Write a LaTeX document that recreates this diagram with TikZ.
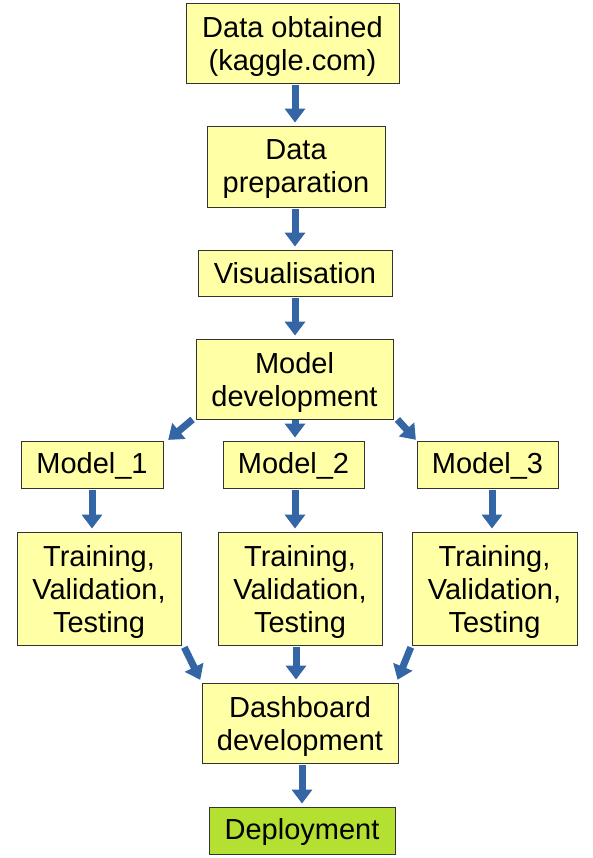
\documentclass[tikz,border=0pt]{standalone}
\usepackage{fontspec}
\setmainfont{Liberation Sans}
\usetikzlibrary{arrows.meta}
\definecolor{boxyellow}{HTML}{FFFFA6}
\definecolor{boxgreen}{RGB}{180,224,50}
\definecolor{arrowblue}{HTML}{3465A4}
\definecolor{boxborder}{HTML}{333333}
\tikzset{
  flowbox/.style={draw=boxborder, line width=0.9pt, fill=boxyellow, rectangle,
    inner sep=0pt, align=center, font=\fontsize{29}{33}\selectfont},
  multiline/.style={text depth=-1.5pt},
  greenbox/.style={flowbox, fill=boxgreen},
  flowarrow/.style={draw=arrowblue, line width=7pt,
    -{Triangle[width=20pt,length=14pt]}, shorten <=2pt, shorten >=3pt},
}
\begin{document}
\begin{tikzpicture}[x=1pt,y=-1pt]
\useasboundingbox (0,0) rectangle (593,858);
\node[flowbox, multiline, minimum width=213pt, minimum height=80pt] (d1) at (292.5,43) {Data obtained\\(kaggle.com)};
\node[flowbox, multiline, minimum width=178pt, minimum height=81pt] (d2) at (296,166.5) {Data\\preparation};
\node[flowbox, text depth=-1pt, minimum width=194pt, minimum height=46pt] (vis) at (295,273) {Visualisation};
\node[flowbox, multiline, minimum width=197pt, minimum height=80pt] (md) at (294.5,379) {Model\\development};
\node[flowbox, text depth=2.5pt, minimum width=142pt, minimum height=47pt] (m1) at (92,464.5) {Model\_1};
\node[flowbox, text depth=2.5pt, minimum width=141pt, minimum height=47pt] (m2) at (293.5,464.5) {Model\_2};
\node[flowbox, text depth=2.5pt, minimum width=141pt, minimum height=47pt] (m3) at (487.5,464.5) {Model\_3};
\node[flowbox, multiline, minimum width=164pt, minimum height=113pt] (t1) at (99,588.5) {Training,\\Validation,\\Testing};
\node[flowbox, multiline, minimum width=164pt, minimum height=113pt] (t2) at (300,588.5) {Training,\\Validation,\\Testing};
\node[flowbox, multiline, minimum width=165pt, minimum height=113pt] (t3) at (494.5,588.5) {Training,\\Validation,\\Testing};
\node[flowbox, multiline, minimum width=196pt, minimum height=80pt] (db) at (300,723) {Dashboard\\development};
\node[greenbox, text depth=2.5pt, minimum width=186pt, minimum height=47pt] (dep) at (302,830.5) {Deployment};

\coordinate (a1) at ([xshift=2.5pt]d1.south);
\draw[flowarrow] (a1) -- (a1 |- d2.north);
\coordinate (a2) at ([xshift=-1pt]d2.south);
\draw[flowarrow] (a2) -- (a2 |- vis.north);
\draw[flowarrow] (vis.south) -- (vis.south |- md.north);
\draw[flowarrow, shorten <=0pt, shorten >=1pt] ([xshift=-3pt]md.south west) -- ([xshift=4pt]m1.north east);
\coordinate (a4) at ([xshift=0.5pt]md.south);
\draw[flowarrow, shorten <=1pt] (a4) -- (a4 |- m2.north);
\draw[flowarrow, shorten <=0pt, shorten >=1pt] ([xshift=4pt]md.south east) -- ([xshift=0pt]m3.north west);
\draw[flowarrow] (m1.south) -- (m1.south |- t1.north);
\coordinate (a5) at ([xshift=1.5pt]m2.south);
\draw[flowarrow] (a5) -- (a5 |- t2.north);
\coordinate (a6) at ([xshift=4.5pt]m3.south);
\draw[flowarrow] (a6) -- (a6 |- t3.north);
\draw[flowarrow] ([xshift=2pt]t1.south east) -- (db.north west);
\coordinate (a7) at ([xshift=-4pt]t2.south);
\draw[flowarrow] (a7) -- (a7 |- db.north);
\draw[flowarrow] ([xshift=0pt]t3.south west) -- ([xshift=-2pt]db.north east);
\coordinate (a8) at ([xshift=2pt]db.south);
\draw[flowarrow] (a8) -- (a8 |- dep.north);
\end{tikzpicture}
\end{document}
